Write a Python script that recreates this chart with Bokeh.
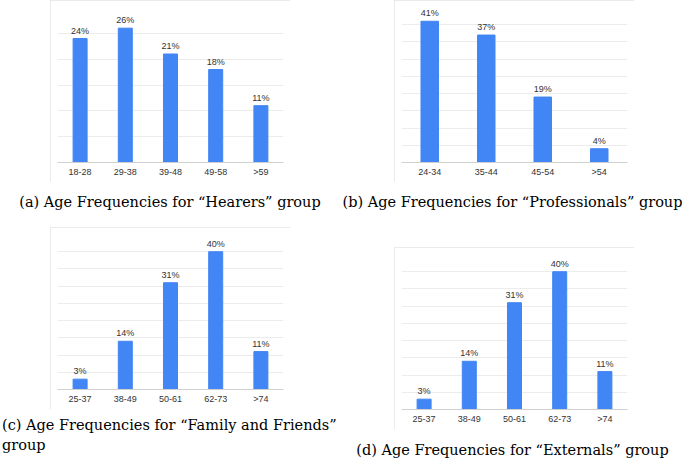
from bokeh.plotting import figure
from bokeh.models import ColumnDataSource, Range1d, FactorRange, Div, SingleIntervalTicker
from bokeh.layouts import column, row
from bokeh.embed import file_html
from bokeh.resources import INLINE
from bokeh.core.properties import value

# ---- data ----
hearers_ages = ["18-28", "29-38", "39-48", "49-58", ">59"]
hearers_pct = [24, 26, 21, 18, 11]

prof_ages = ["24-34", "35-44", "45-54", ">54"]
prof_pct = [41, 37, 19, 4]

family_ages = ["25-37", "38-49", "50-61", "62-73", ">74"]
family_pct = [3, 14, 31, 40, 11]

externals_ages = ["25-37", "38-49", "50-61", "62-73", ">74"]
externals_pct = [3, 14, 31, 40, 11]

captions = [
    "(a) Age Frequencies for \u201cHearers\u201d group",
    "(b) Age Frequencies for \u201cProfessionals\u201d group",
    "(c) Age Frequencies for \u201cFamily and Friends\u201d<br>group",
    "(d) Age Frequencies for \u201cExternals\u201d group",
]

BAR = "#4285F4"
SANS = "Liberation Sans"
SERIF = "DejaVu Serif"


def chart(ages, pct, ymax, margin):
    src = ColumnDataSource(dict(age=ages, pct=pct, lbl=[f"{v}%" for v in pct]))
    p = figure(width=240, height=182, x_range=FactorRange(*ages, range_padding=0),
               y_range=Range1d(0, ymax), output_backend="svg", toolbar_location=None,
               min_border_left=7, min_border_right=7, min_border_top=7, min_border_bottom=20,
               margin=margin, styles={"outline": "1px solid #e4e4e4", "outline-offset": "-1px"})
    p.outline_line_color = None
    p.vbar(x="age", top="pct", width=0.31, source=src, color=BAR, line_color=BAR)
    p.text(x="age", y="pct", text="lbl", source=src, text_align="center",
           text_baseline="bottom", y_offset=-3, text_font=value(SANS),
           text_font_size="9px", text_color="#333333")
    p.yaxis.visible = False
    p.yaxis.ticker = SingleIntervalTicker(interval=5)
    p.ygrid.ticker = SingleIntervalTicker(interval=5)
    p.ygrid.grid_line_color = "#ececec"
    p.xgrid.grid_line_color = None
    ax = p.xaxis[0]
    ax.axis_line_color = "#d0d0d0"
    ax.major_tick_line_color = None
    ax.minor_tick_line_color = None
    ax.major_tick_out = 0
    ax.major_label_standoff = 4
    ax.major_label_text_font = SANS
    ax.major_label_text_font_size = "9px"
    ax.major_label_text_color = "#333333"
    return p


def cap(text, width, height, align, margin, lh):
    return Div(text=text, width=width, height=height, margin=margin,
               styles={"font-family": SERIF, "font-size": "14.5px", "color": "#000000",
                       "text-align": align, "line-height": lh, "white-space": "nowrap"})


fa = chart(hearers_ages, hearers_pct, 30, (0, 0, 0, 50))
fb = chart(prof_ages, prof_pct, 45, (0, 0, 0, 54))
fc = chart(family_ages, family_pct, 45, (15, 0, 0, 50))
fd = chart(externals_ages, externals_pct, 45, (35, 0, 0, 54))

ca = cap(captions[0], 340, 20, "center", (10, 0, 0, 0), "20px")
cb = cap(captions[1], 345, 20, "center", (10, 0, 0, 0), "20px")
cc = cap(captions[2], 338, 40, "left", (6, 0, 0, 2), "20px")
cd = cap(captions[3], 345, 18, "center", (12, 0, 0, 0), "18px")

left = column(fa, ca, fc, cc, width=340)
right = column(fb, cb, fd, cd, width=345)
p = row(left, right)

open("out.html", "w").write(file_html(p, INLINE))
